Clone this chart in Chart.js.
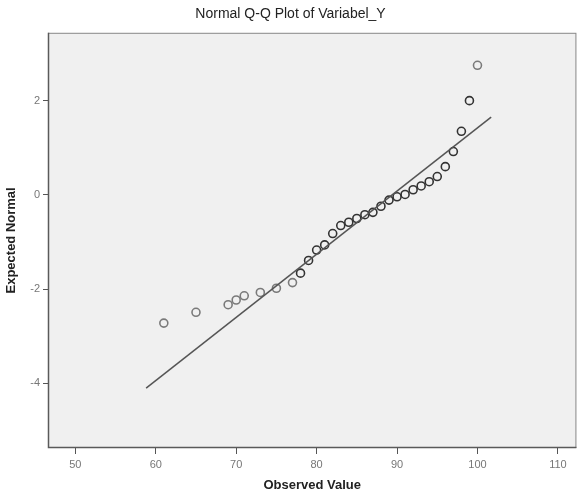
<!DOCTYPE html>
<html>
<head>
<meta charset="utf-8">
<script src="https://cdn.jsdelivr.net/npm/chart.js@4/dist/chart.umd.min.js"></script>
<style>
  html, body { margin: 0; padding: 0; background: #fff; }
  #wrap { width: 582px; height: 495px; }
</style>
</head>
<body>
<div id="wrap"><canvas id="qq" width="582" height="495"></canvas></div>
<script>
const observed = [61, 65, 69, 70, 71, 73, 75, 77, 78, 79, 80, 81, 82, 83, 84, 85,
  86, 87, 88, 89, 90, 91, 92, 93, 94, 95, 96, 97, 98, 99, 100];
const expected = [-2.72, -2.49, -2.33, -2.23, -2.14, -2.07, -1.98, -1.86, -1.66, -1.39,
  -1.17, -1.06, -0.82, -0.65, -0.58, -0.50, -0.42, -0.37, -0.24, -0.11, -0.04, 0.01,
  0.11, 0.19, 0.28, 0.39, 0.60, 0.92, 1.35, 2.00, 2.75];
// how many cases sit at each value (overlapping markers look darker)
const freq = [1, 1, 1, 1, 1, 1, 1, 1, 2, 2, 2, 2, 2, 2, 2, 2,
  2, 2, 2, 2, 2, 2, 2, 2, 2, 2, 2, 2, 2, 2, 1];

// reference line ends
const lineX = [58.8, 101.7];
const lineY = [-4.10, 1.65];

const xTicks = [50, 60, 70, 80, 90, 100, 110];
const yTicks = [-4, -2, 0, 2];

const FONT = '"Liberation Sans", Arial, sans-serif';

const plotFrame = {
  id: 'plotFrame',
  beforeDraw(chart) {
    const { ctx, chartArea: a } = chart;
    ctx.save();
    ctx.fillStyle = '#f0f0f0';
    ctx.fillRect(a.left, a.top, a.right - a.left, a.bottom - a.top);
    ctx.restore();
  },
  afterDraw(chart) {
    const { ctx, chartArea: a } = chart;
    ctx.save();
    ctx.strokeStyle = '#8a8a8a';
    ctx.lineWidth = 1;
    ctx.strokeRect(a.left + 0.5, a.top + 0.5, a.right - a.left - 1, a.bottom - a.top - 1);
    ctx.strokeStyle = '#5a5a5a';
    ctx.lineWidth = 1.5;
    ctx.beginPath();
    ctx.moveTo(a.left + 0.5, a.top);
    ctx.lineTo(a.left + 0.5, a.bottom - 0.5);
    ctx.lineTo(a.right, a.bottom - 0.5);
    ctx.stroke();
    ctx.restore();
  }
};

const ctx = document.getElementById('qq').getContext('2d');
new Chart(ctx, {
  type: 'scatter',
  data: {
    datasets: [
      {
        label: 'Line',
        type: 'line',
        data: lineX.map((x, i) => ({ x: x, y: lineY[i] })),
        borderColor: '#555',
        borderWidth: 1.5,
        pointRadius: 0,
        fill: false
      },
      {
        label: 'Observed',
        data: observed.map((x, i) => ({ x: x, y: expected[i] })),
        pointStyle: 'circle',
        pointRadius: 4,
        pointBorderWidth: 1.6,
        pointBackgroundColor: 'rgba(0,0,0,0)',
        pointBorderColor: observed.map((x, i) => freq[i] > 1 ? '#333' : '#7a7a7a')
      }
    ]
  },
  options: {
    responsive: false,
    animation: false,
    layout: { padding: { left: 0, right: 1, top: 0, bottom: 0 } },
    plugins: {
      legend: { display: false },
      tooltip: { enabled: false },
      title: {
        display: true,
        text: 'Normal Q-Q Plot of Variabel_Y',
        color: '#222',
        font: { family: FONT, size: 14, weight: 'normal' },
        padding: { top: 6, bottom: 10 }
      }
    },
    scales: {
      x: {
        type: 'linear',
        min: 46.6,
        max: 112.3,
        afterBuildTicks: s => { s.ticks = xTicks.map(v => ({ value: v })); },
        afterFit: s => { s.height = 47; },
        grid: { display: true, drawOnChartArea: false, drawTicks: true, tickLength: 6, color: '#555' },
        border: { display: false },
        ticks: {
          color: '#777',
          padding: 4,
          font: { family: FONT, size: 11 }
        },
        title: {
          display: true,
          text: 'Observed Value',
          color: '#222',
          font: { family: FONT, size: 13, weight: 'bold' },
          padding: { top: 0, bottom: 2 }
        }
      },
      y: {
        type: 'linear',
        min: -5.37,
        max: 3.44,
        afterBuildTicks: s => { s.ticks = yTicks.map(v => ({ value: v })); },
        afterFit: s => { s.width = 48; },
        grid: { display: true, drawOnChartArea: false, drawTicks: true, tickLength: 5, color: '#555' },
        border: { display: false },
        ticks: {
          color: '#777',
          padding: 3,
          font: { family: FONT, size: 11 }
        },
        title: {
          display: true,
          text: 'Expected Normal',
          color: '#222',
          font: { family: FONT, size: 13, weight: 'bold' },
          padding: { top: 4, bottom: 0 }
        }
      }
    }
  },
  plugins: [plotFrame]
});
</script>
</body>
</html>
